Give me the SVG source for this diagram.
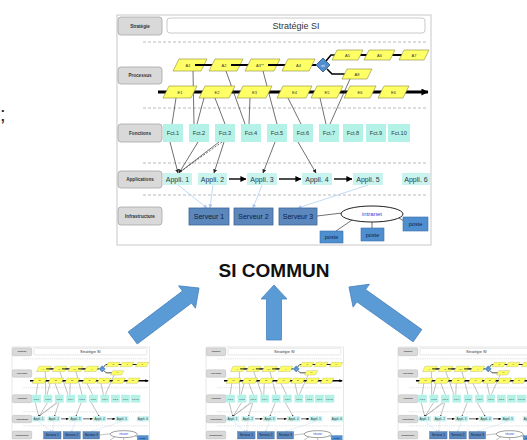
<svg xmlns="http://www.w3.org/2000/svg" xmlns:xlink="http://www.w3.org/1999/xlink" width="527" height="440" viewBox="0 0 527 440">
<style>
text{font-family:"Liberation Sans",Arial,sans-serif}
.lbl rect{fill:#d9d9d9;stroke:#a6a6a6;stroke-width:0.8}
.lbl text{font-size:4.6px;font-weight:bold;fill:#333;text-anchor:middle}
.para path{fill:#ffff66;stroke:#8c8c3a;stroke-width:0.6}
.para text{font-size:4px;fill:#333;text-anchor:middle}
.fct rect{fill:#b4f2e8}
.fct text{font-size:5.6px;fill:#2a3a3a;text-anchor:middle}
.app rect{fill:#c8f3ee}
.app text{font-size:7px;fill:#2a3a4a;text-anchor:middle}
.srv rect{fill:#5b87bd;stroke:#3f6797;stroke-width:0.8}
.srv text{font-size:7px;fill:#10203a;text-anchor:middle}
.post rect{fill:#4f8fd0;stroke:#3a6ea8;stroke-width:0.6}
.post text{font-size:5.5px;fill:#10203a;text-anchor:middle}
.sep{stroke:#aaaaaa;stroke-width:0.8;stroke-dasharray:3 2}
.thin{stroke:#333;stroke-width:0.7;fill:none}
.blue{stroke:#b3d0f0;stroke-width:0.8;fill:none}
.big{fill:#5b9bd5;stroke:#4a84bf;stroke-width:0.8}
</style>
<defs>
<marker id="ah" viewBox="0 0 6 6" refX="5.5" refY="3" markerWidth="4" markerHeight="4" markerUnits="userSpaceOnUse" orient="auto"><path d="M0,0 L6,3 L0,6 z" fill="#222"/></marker>
<marker id="ahb" viewBox="0 0 6 6" refX="5.5" refY="3" markerWidth="4" markerHeight="4" markerUnits="userSpaceOnUse" orient="auto"><path d="M0,0 L6,3 L0,6 z" fill="#a9c8ec"/></marker>
<marker id="aht" viewBox="0 0 8 8" refX="7.5" refY="4" markerWidth="6" markerHeight="6" markerUnits="userSpaceOnUse" orient="auto"><path d="M0,0 L8,4 L0,8 z" fill="#000"/></marker>
<marker id="ahl" viewBox="0 0 8 8" refX="7.5" refY="4" markerWidth="9" markerHeight="7" markerUnits="userSpaceOnUse" orient="auto"><path d="M0,0 L8,4 L0,8 z" fill="#000"/></marker>
</defs>

<rect width="527" height="440" fill="#ffffff"/>
<text x="0" y="121" font-size="20" fill="#222">;</text>

<g id="si-commun">
  <rect id="frame" x="117" y="15" width="314" height="230" fill="#fff" stroke="#c8c8c8" stroke-width="1"/>
  <g id="separators">
    <line class="sep" x1="143" y1="42" x2="428" y2="42"/>
    <line class="sep" x1="143" y1="108" x2="428" y2="108"/>
    <line class="sep" x1="143" y1="163" x2="428" y2="163"/>
    <line class="sep" x1="143" y1="195" x2="428" y2="195"/>
  </g>
  <g id="lbl-strategie" class="lbl"><rect x="118" y="17" width="44" height="18" rx="3"/><text x="140" y="27.5">Stratégie</text></g>
  <g id="lbl-processus" class="lbl"><rect x="118" y="67" width="44" height="17" rx="3"/><text x="140" y="77">Processus</text></g>
  <g id="lbl-fonctions" class="lbl"><rect x="118" y="124" width="44" height="18" rx="3"/><text x="140" y="134.5">Fonctions</text></g>
  <g id="lbl-applications" class="lbl"><rect x="118" y="171" width="44" height="17" rx="3"/><text x="140" y="181">Applications</text></g>
  <g id="lbl-infrastructure" class="lbl"><rect x="118" y="207" width="44" height="18" rx="3"/><text x="140" y="217.5">Infrastructure</text></g>
  <g id="strategie-si"><rect x="167" y="18" width="258" height="15" rx="3" fill="#fff" stroke="#bcbcbc" stroke-width="0.8"/><text x="296" y="28.8" font-size="9" fill="#333" text-anchor="middle">Stratégie SI</text></g>

  <g id="connectors">
    <line x1="190" y1="65" x2="316" y2="65" stroke="#000" stroke-width="2"/>
    <polyline points="326,61 331,55 337,55" stroke="#000" stroke-width="1.6" fill="none"/>
    <polyline points="327,69 332,74 346,74" stroke="#000" stroke-width="1.6" fill="none"/>
    <line x1="358" y1="55" x2="404" y2="55" stroke="#000" stroke-width="2"/>
    <line x1="158" y1="92" x2="428" y2="92" stroke="#000" stroke-width="3" marker-end="url(#ahl)"/>
    <line class="thin" x1="176" y1="98" x2="172" y2="124"/>
    <line class="thin" x1="193" y1="71" x2="194" y2="124"/>
    <line class="thin" x1="204" y1="98" x2="197" y2="124"/>
    <line class="thin" x1="215" y1="98" x2="225" y2="124"/>
    <line class="thin" x1="226" y1="71" x2="245" y2="124"/>
    <line class="thin" x1="250" y1="98" x2="249" y2="124"/>
    <line class="thin" x1="263" y1="71" x2="277" y2="124"/>
    <line class="thin" x1="288" y1="98" x2="301" y2="124"/>
    <line class="thin" x1="320" y1="98" x2="326" y2="124"/>
    <line class="thin" x1="350" y1="79" x2="330" y2="124"/>
    <line class="thin" x1="170" y1="142" x2="178" y2="173" marker-end="url(#ah)"/>
    <line class="thin" x1="198" y1="142" x2="179" y2="173" marker-end="url(#ah)"/>
    <line class="thin" x1="222" y1="142" x2="180" y2="172" stroke-dasharray="2 1.5"/>
    <line class="thin" x1="219" y1="142" x2="180" y2="172"/>
    <line class="thin" x1="224" y1="142" x2="214" y2="173" marker-end="url(#ah)"/>
    <line class="thin" x1="275" y1="142" x2="263" y2="173" marker-end="url(#ah)"/>
    <line class="thin" x1="298" y1="142" x2="316" y2="173" marker-end="url(#ah)"/>
    <line x1="229" y1="179" x2="246" y2="179" stroke="#000" stroke-width="1.4" marker-end="url(#aht)"/>
    <line x1="279" y1="179" x2="301" y2="179" stroke="#000" stroke-width="1.4" marker-end="url(#aht)"/>
    <line x1="334" y1="179" x2="352" y2="179" stroke="#000" stroke-width="1.4" marker-end="url(#aht)"/>
    <line class="blue" x1="178" y1="185" x2="207" y2="208" marker-end="url(#ahb)"/>
    <line class="blue" x1="213" y1="185" x2="210" y2="208" marker-end="url(#ahb)"/>
    <line class="blue" x1="262" y1="185" x2="253" y2="208" marker-end="url(#ahb)"/>
    <line class="blue" x1="368" y1="185" x2="298" y2="208" marker-end="url(#ahb)"/>
    <line class="thin" x1="317" y1="216" x2="342" y2="213" stroke-width="0.9"/>
    <line class="thin" x1="352" y1="220" x2="336" y2="231" stroke-width="0.9"/>
    <line class="thin" x1="372" y1="222" x2="372" y2="228" stroke-width="0.9"/>
    <line class="thin" x1="399" y1="218" x2="404" y2="221" stroke-width="0.9"/>
  </g>

  <g id="A1" class="para"><path d="M179 59 H207 L201 71 H173 Z"/><text x="188" y="66.5">A1</text></g>
  <g id="A2" class="para"><path d="M215 59 H243 L237 71 H209 Z"/><text x="224" y="66.5">A2</text></g>
  <g id="A3" class="para"><path d="M251 59 H280 L274 71 H245 Z"/><text x="260" y="66.5">A3**</text></g>
  <g id="A4" class="para"><path d="M288 59 H315 L309 71 H282 Z"/><text x="298.5" y="66.5">A4</text></g>
  <g id="decision"><path d="M323 58 L330 65 L323 72 L316 65 Z" fill="#4f8fcf" stroke="#2f4f7a" stroke-width="0.8"/><text x="323" y="66.5" font-size="4" fill="#fff" text-anchor="middle">et</text></g>
  <g id="A5" class="para"><path d="M337 50 H363 L358 60 H332 Z"/><text x="347.5" y="56.5">A5</text></g>
  <g id="A6" class="para"><path d="M369 50 H395 L390 60 H364 Z"/><text x="379.5" y="56.5">A6</text></g>
  <g id="A7" class="para"><path d="M404 50 H429 L424 60 H399 Z"/><text x="414" y="56.5">A7</text></g>
  <g id="A8" class="para"><path d="M347 69 H372 L367 79 H342 Z"/><text x="357" y="75.5">A8</text></g>
  <g id="line-ticks"><line x1="195" y1="65" x2="210" y2="65" stroke="#000" stroke-width="2"/><line x1="231" y1="65" x2="246" y2="65" stroke="#000" stroke-width="2"/><line x1="268" y1="65" x2="284" y2="65" stroke="#000" stroke-width="2"/></g>

  <g id="E1" class="para"><path d="M169 86 H197 L191 98 H163 Z"/><text x="180" y="93.5">E1</text></g>
  <g id="E2" class="para"><path d="M205 86 H235 L229 98 H199 Z"/><text x="217" y="93.5">E2</text></g>
  <g id="E3" class="para"><path d="M243 86 H272 L266 98 H237 Z"/><text x="254.5" y="93.5">E3</text></g>
  <g id="E4" class="para"><path d="M283 86 H312 L306 98 H277 Z"/><text x="294.5" y="93.5">E4</text></g>
  <g id="E5" class="para"><path d="M317 86 H343 L337 98 H311 Z"/><text x="327" y="93.5">E5</text></g>
  <g id="E6" class="para"><path d="M350 86 H376 L370 98 H344 Z"/><text x="360" y="93.5">E6</text></g>
  <g id="E6b" class="para"><path d="M384 86 H409 L403 98 H378 Z"/><text x="393.5" y="93.5">E6</text></g>

  <g id="fct1" class="fct"><rect x="163" y="124" width="20" height="18"/><text x="173" y="135">Fct.1</text></g>
  <g id="fct2" class="fct"><rect x="189" y="124" width="20" height="18"/><text x="199" y="135">Fct.2</text></g>
  <g id="fct3" class="fct"><rect x="215" y="124" width="20" height="18"/><text x="225" y="135">Fct.3</text></g>
  <g id="fct4" class="fct"><rect x="241" y="124" width="20" height="18"/><text x="251" y="135">Fct.4</text></g>
  <g id="fct5" class="fct"><rect x="267" y="124" width="20" height="18"/><text x="277" y="135">Fct.5</text></g>
  <g id="fct6" class="fct"><rect x="293" y="124" width="20" height="18"/><text x="303" y="135">Fct.6</text></g>
  <g id="fct7" class="fct"><rect x="319" y="124" width="20" height="18"/><text x="329" y="135">Fct.7</text></g>
  <g id="fct8" class="fct"><rect x="343" y="124" width="20" height="18"/><text x="353" y="135">Fct.8</text></g>
  <g id="fct9" class="fct"><rect x="366" y="124" width="20" height="18"/><text x="376" y="135">Fct.9</text></g>
  <g id="fct10" class="fct"><rect x="388" y="124" width="22" height="18"/><text x="399" y="135">Fct.10</text></g>

  <g id="appli1" class="app"><rect x="163" y="173" width="29" height="12"/><text x="177.5" y="181.5">Appli. 1</text></g>
  <g id="appli2" class="app"><rect x="198" y="173" width="29" height="12"/><text x="212.5" y="181.5">Appli. 2</text></g>
  <g id="appli3" class="app"><rect x="247" y="173" width="30" height="12"/><text x="262" y="181.5">Appli. 3</text></g>
  <g id="appli4" class="app"><rect x="302" y="173" width="30" height="12"/><text x="317" y="181.5">Appli. 4</text></g>
  <g id="appli5" class="app"><rect x="353" y="173" width="30" height="12"/><text x="368" y="181.5">Appli. 5</text></g>
  <g id="appli6" class="app"><rect x="402" y="173" width="28" height="12"/><text x="416" y="181.5">Appli. 6</text></g>

  <g id="serveur1" class="srv"><rect x="189" y="208" width="40" height="17"/><text x="209" y="219">Serveur 1</text></g>
  <g id="serveur2" class="srv"><rect x="234" y="208" width="39" height="17"/><text x="253.5" y="219">Serveur 2</text></g>
  <g id="serveur3" class="srv"><rect x="279" y="208" width="38" height="17"/><text x="298" y="219">Serveur 3</text></g>
  <g id="intranet"><ellipse cx="372" cy="214" rx="31" ry="8" fill="#fff" stroke="#222" stroke-width="1"/><text x="372" y="216" font-size="6" fill="#3a3ad0" text-anchor="middle">intranet</text></g>
  <g id="poste1" class="post"><rect x="320" y="231" width="23" height="12"/><text x="331.5" y="239">poste</text></g>
  <g id="poste2" class="post"><rect x="361" y="228" width="23" height="13"/><text x="372.5" y="236.5">poste</text></g>
  <g id="poste3" class="post"><rect x="403" y="217" width="25" height="14"/><text x="415.5" y="226">poste</text></g>
</g>

<text id="title" x="274" y="277" font-size="19" font-weight="bold" fill="#111" text-anchor="middle">SI COMMUN</text>

<g id="big-arrows">
  <polygon class="big" transform="translate(199,288) rotate(53)" points="0,0 14,15 7.5,15 7.5,83 -7.5,83 -7.5,15 -14,15"/>
  <polygon class="big" transform="translate(274,285)" points="0,0 13,14 7.5,14 7.5,55 -7.5,55 -7.5,14 -13,14"/>
  <polygon class="big" transform="translate(349,287) rotate(-54.6)" points="0,0 14,15 7.5,15 7.5,84 -7.5,84 -7.5,15 -14,15"/>
</g>

<g id="si-local-1"><use xlink:href="#si-commun" href="#si-commun" transform="translate(-39.25,340.43) scale(0.438)"/></g>
<g id="si-local-2"><use xlink:href="#si-commun" href="#si-commun" transform="translate(154.75,340.43) scale(0.438)"/></g>
<g id="si-local-3"><use xlink:href="#si-commun" href="#si-commun" transform="translate(346.75,340.43) scale(0.438)"/></g>
</svg>
